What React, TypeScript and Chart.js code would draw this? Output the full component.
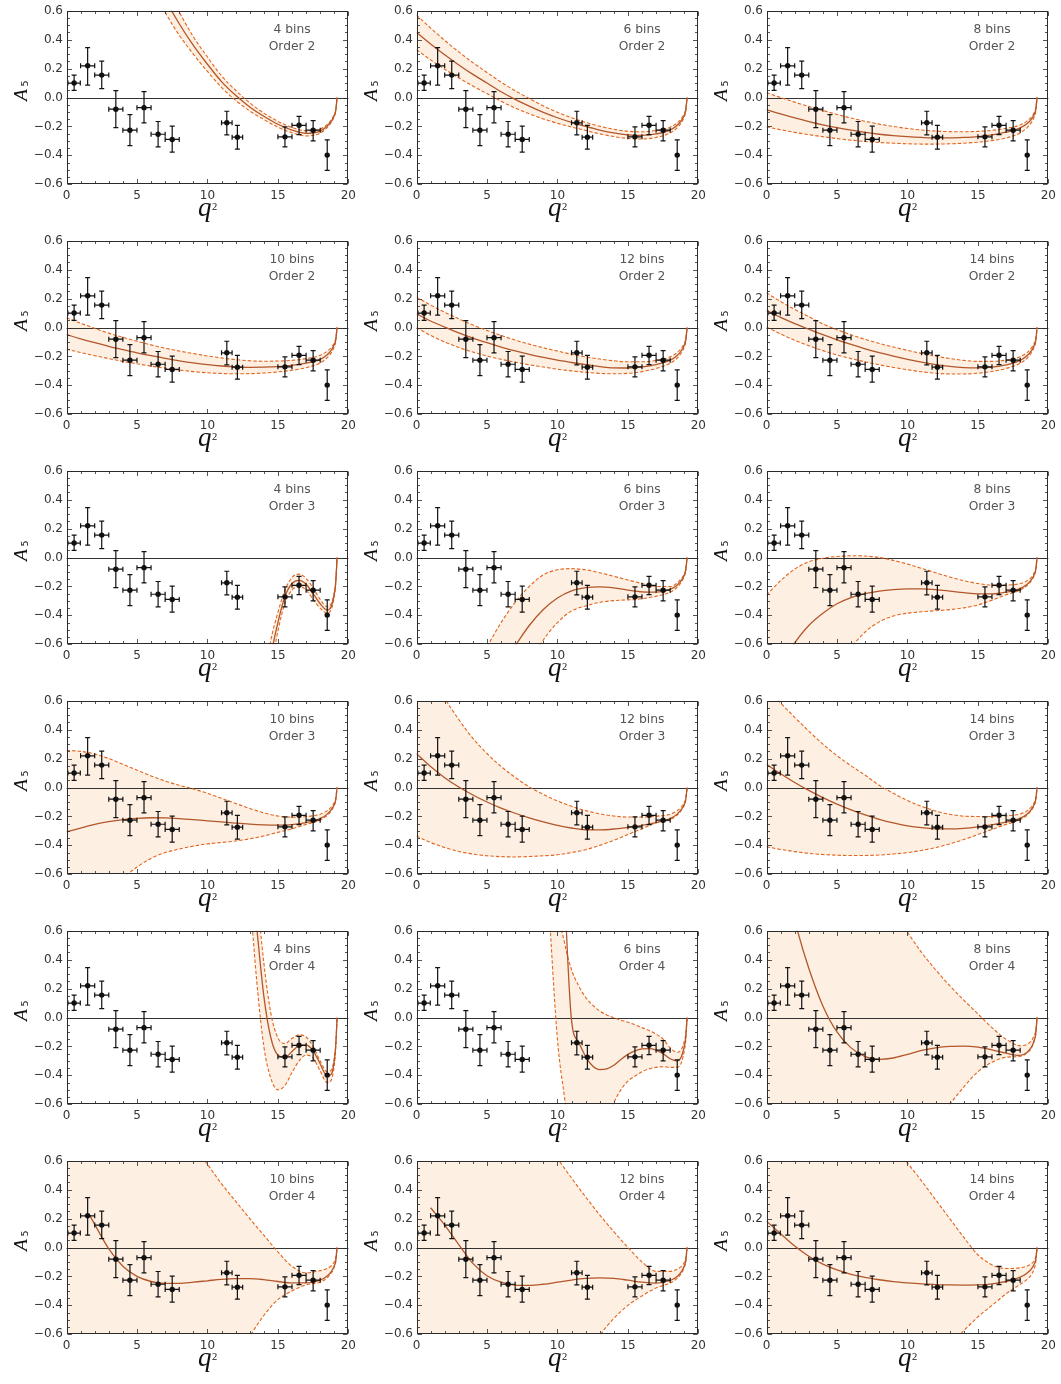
import React, { useEffect, useRef } from "react";
import { Chart, registerables } from "chart.js";

Chart.register(...registerables);

// ---------------- data points (same in every panel) ----------------
const Q = [0.54, 1.5, 2.5, 3.5, 4.5, 5.5, 6.5, 7.5, 11.375, 12.125, 15.5, 16.5, 17.5, 18.5];
const Q_LO = [0.1, 1, 2, 3, 4, 5, 6, 7, 11, 11.75, 15, 16, 17, 18.5];
const Q_HI = [0.98, 2, 3, 4, 5, 6, 7, 8, 11.75, 12.5, 16, 17, 18, 18.5];
const A5 = [0.1, 0.219, 0.155, -0.081, -0.226, -0.07, -0.254, -0.29, -0.175, -0.274, -0.272, -0.192, -0.226, -0.398];
const ERR_UP = [0.055, 0.126, 0.096, 0.128, 0.108, 0.11, 0.088, 0.092, 0.08, 0.082, 0.069, 0.062, 0.066, 0.105];
const ERR_DN = [0.051, 0.133, 0.094, 0.127, 0.106, 0.105, 0.087, 0.087, 0.083, 0.083, 0.069, 0.064, 0.074, 0.106];

// ---------------- sample grids for fitted curves ----------------
const GRID_C = [0, 1, 2, 3, 4, 5, 6, 7, 8, 9, 10, 11, 12, 13, 14, 15, 16, 17, 18, 18.5, 18.8, 19, 19.1, 19.2];
const GRID_F = [0, 1, 2, 3, 4, 5, 6, 7, 8, 9, 9.5, 10, 10.5, 11, 11.5, 12, 12.5, 13, 13.5, 14, 14.5, 15, 15.5, 16, 16.5, 17, 17.5, 18, 18.5, 18.8, 19, 19.1, 19.2];

const BINS = [4, 6, 8, 10, 12, 14];
const ORDERS = [2, 3, 4];
const X_TICKS = [0, 5, 10, 15, 20];
const Y_TICKS = [-0.6, -0.4, -0.2, 0, 0.2, 0.4, 0.6];

// ---------------- Order 2 ----------------
const P1_C = [2.6, 2.2, 1.9, 1.6, 1.35, 1.1, 0.88, 0.68, 0.51, 0.36, 0.23, 0.11, 0.015, -0.065, -0.13, -0.185, -0.225, -0.248, -0.232, -0.197, -0.162, -0.125, -0.093, 0];
const P1_U = [2.8, 2.38, 2.06, 1.75, 1.48, 1.22, 0.98, 0.77, 0.59, 0.42, 0.28, 0.15, 0.05, -0.037, -0.108, -0.165, -0.207, -0.23, -0.218, -0.186, -0.153, -0.118, -0.088, 0];
const P1_L = [2.4, 2.02, 1.74, 1.45, 1.22, 0.98, 0.78, 0.59, 0.43, 0.3, 0.18, 0.07, -0.02, -0.093, -0.152, -0.205, -0.243, -0.266, -0.246, -0.208, -0.171, -0.132, -0.098, 0];

const P2_C = [0.45, 0.37, 0.295, 0.225, 0.16, 0.1, 0.04, -0.013, -0.06, -0.103, -0.14, -0.172, -0.2, -0.225, -0.245, -0.258, -0.262, -0.252, -0.225, -0.192, -0.158, -0.122, -0.09, 0];
const P2_U = [0.57, 0.48, 0.395, 0.315, 0.241, 0.173, 0.106, 0.047, -0.007, -0.058, -0.102, -0.14, -0.172, -0.199, -0.22, -0.233, -0.237, -0.228, -0.205, -0.175, -0.144, -0.111, -0.082, 0];
const P2_L = [0.33, 0.26, 0.195, 0.135, 0.079, 0.027, -0.026, -0.073, -0.113, -0.148, -0.178, -0.204, -0.228, -0.251, -0.27, -0.283, -0.287, -0.276, -0.245, -0.209, -0.172, -0.133, -0.098, 0];

const P3_C = [-0.085, -0.114, -0.141, -0.166, -0.189, -0.209, -0.226, -0.241, -0.254, -0.264, -0.271, -0.276, -0.279, -0.279, -0.276, -0.27, -0.258, -0.24, -0.21, -0.18, -0.149, -0.115, -0.085, 0];
const P3_U = [0.033, 0.0, -0.032, -0.062, -0.09, -0.117, -0.142, -0.164, -0.184, -0.2, -0.214, -0.225, -0.232, -0.236, -0.237, -0.234, -0.227, -0.213, -0.19, -0.162, -0.134, -0.103, -0.076, 0];
const P3_L = [-0.203, -0.223, -0.241, -0.257, -0.271, -0.284, -0.295, -0.304, -0.311, -0.316, -0.32, -0.322, -0.322, -0.32, -0.316, -0.309, -0.298, -0.28, -0.245, -0.208, -0.172, -0.133, -0.098, 0];

const P4_C = [-0.049, -0.078, -0.105, -0.13, -0.153, -0.175, -0.195, -0.213, -0.23, -0.245, -0.257, -0.266, -0.272, -0.275, -0.274, -0.27, -0.262, -0.247, -0.22, -0.188, -0.155, -0.119, -0.088, 0];
const P4_U = [0.068, 0.03, -0.006, -0.039, -0.068, -0.095, -0.12, -0.143, -0.163, -0.18, -0.197, -0.21, -0.222, -0.23, -0.233, -0.232, -0.227, -0.215, -0.192, -0.164, -0.136, -0.105, -0.077, 0];
const P4_L = [-0.15, -0.173, -0.195, -0.215, -0.234, -0.251, -0.267, -0.281, -0.294, -0.305, -0.313, -0.318, -0.32, -0.319, -0.315, -0.307, -0.296, -0.278, -0.245, -0.209, -0.172, -0.133, -0.098, 0];

const P5_C = [0.095, 0.045, 0.003, -0.037, -0.073, -0.105, -0.135, -0.162, -0.186, -0.207, -0.226, -0.242, -0.257, -0.27, -0.279, -0.28, -0.272, -0.256, -0.226, -0.193, -0.159, -0.122, -0.09, 0];
const P5_U = [0.21, 0.155, 0.105, 0.06, 0.017, -0.02, -0.055, -0.087, -0.115, -0.14, -0.163, -0.185, -0.203, -0.218, -0.23, -0.237, -0.237, -0.228, -0.203, -0.173, -0.142, -0.11, -0.081, 0];
const P5_L = [0.0, -0.055, -0.1, -0.138, -0.17, -0.197, -0.22, -0.24, -0.258, -0.273, -0.288, -0.3, -0.31, -0.317, -0.32, -0.317, -0.305, -0.283, -0.248, -0.211, -0.174, -0.134, -0.099, 0];

const P6_C = [0.118, 0.07, 0.027, -0.012, -0.05, -0.085, -0.117, -0.147, -0.174, -0.198, -0.22, -0.239, -0.256, -0.269, -0.277, -0.279, -0.274, -0.258, -0.227, -0.194, -0.16, -0.123, -0.091, 0];
const P6_U = [0.24, 0.18, 0.125, 0.075, 0.025, -0.015, -0.05, -0.082, -0.11, -0.135, -0.158, -0.179, -0.198, -0.214, -0.227, -0.234, -0.234, -0.225, -0.202, -0.172, -0.141, -0.109, -0.081, 0];
const P6_L = [0.003, -0.045, -0.088, -0.126, -0.16, -0.19, -0.215, -0.238, -0.258, -0.276, -0.292, -0.306, -0.316, -0.321, -0.321, -0.316, -0.304, -0.283, -0.248, -0.211, -0.174, -0.134, -0.099, 0];

// ---------------- Order 3 ----------------
const P7_C = [-3, -3, -3, -3, -3, -3, -3, -3, -3, -3, -3, -3, -3, -3, -3, -2.7, -2.1, -1.7, -1.32, -0.98, -0.68, -0.45, -0.27, -0.18, -0.158, -0.185, -0.25, -0.32, -0.363, -0.335, -0.255, -0.175, 0];
const P7_U = [-3, -3, -3, -3, -3, -3, -3, -3, -3, -3, -3, -3, -3, -3, -3, -2.5, -1.9, -1.5, -1.15, -0.85, -0.57, -0.38, -0.225, -0.138, -0.115, -0.145, -0.21, -0.29, -0.34, -0.315, -0.24, -0.165, 0];
const P7_L = [-3, -3, -3, -3, -3, -3, -3, -3, -3, -3, -3, -3, -3, -3, -3, -2.9, -2.3, -1.9, -1.5, -1.1, -0.78, -0.51, -0.315, -0.225, -0.2, -0.225, -0.29, -0.35, -0.385, -0.355, -0.27, -0.185, 0];

const P8_C = [-2.2, -1.9, -1.6, -1.35, -1.12, -0.92, -0.75, -0.61, -0.47, -0.36, -0.28, -0.23, -0.208, -0.203, -0.21, -0.225, -0.238, -0.24, -0.22, -0.19, -0.158, -0.122, -0.09, 0];
const P8_U = [-1.6, -1.35, -1.12, -0.92, -0.76, -0.615, -0.45, -0.31, -0.2, -0.12, -0.085, -0.077, -0.085, -0.105, -0.13, -0.155, -0.18, -0.2, -0.2, -0.175, -0.145, -0.112, -0.082, 0];
const P8_L = [-2.8, -2.5, -2.2, -1.9, -1.6, -1.35, -1.1, -0.9, -0.72, -0.57, -0.45, -0.37, -0.335, -0.31, -0.298, -0.293, -0.285, -0.268, -0.24, -0.205, -0.169, -0.13, -0.096, 0];

const P9_C = [-0.92, -0.74, -0.59, -0.47, -0.385, -0.32, -0.277, -0.25, -0.232, -0.222, -0.217, -0.217, -0.222, -0.232, -0.243, -0.252, -0.252, -0.24, -0.215, -0.185, -0.153, -0.118, -0.087, 0];
const P9_U = [-0.26, -0.16, -0.08, -0.03, -0.005, 0.007, 0.012, 0.01, 0.0, -0.02, -0.045, -0.075, -0.105, -0.135, -0.16, -0.18, -0.19, -0.19, -0.18, -0.16, -0.136, -0.106, -0.078, 0];
const P9_L = [-2.0, -1.7, -1.42, -1.17, -0.95, -0.77, -0.625, -0.515, -0.445, -0.405, -0.385, -0.375, -0.368, -0.36, -0.348, -0.328, -0.295, -0.258, -0.225, -0.193, -0.16, -0.123, -0.091, 0];

const P10_C = [-0.306, -0.28, -0.255, -0.236, -0.222, -0.213, -0.209, -0.21, -0.215, -0.222, -0.23, -0.238, -0.246, -0.253, -0.258, -0.26, -0.256, -0.243, -0.215, -0.184, -0.152, -0.117, -0.086, 0];
const P10_U = [0.256, 0.25, 0.232, 0.2, 0.16, 0.12, 0.08, 0.045, 0.015, -0.01, -0.04, -0.075, -0.11, -0.145, -0.175, -0.197, -0.205, -0.2, -0.185, -0.16, -0.133, -0.103, -0.076, 0];
const P10_L = [-1.2, -1.02, -0.87, -0.74, -0.63, -0.55, -0.49, -0.45, -0.425, -0.405, -0.39, -0.38, -0.37, -0.355, -0.335, -0.31, -0.285, -0.255, -0.225, -0.193, -0.16, -0.123, -0.091, 0];

const P11_C = [0.233, 0.145, 0.068, 0.003, -0.052, -0.1, -0.142, -0.178, -0.21, -0.238, -0.262, -0.28, -0.292, -0.293, -0.287, -0.275, -0.262, -0.243, -0.215, -0.184, -0.152, -0.117, -0.086, 0];
const P11_U = [1.05, 0.82, 0.62, 0.47, 0.34, 0.235, 0.145, 0.07, 0.005, -0.048, -0.093, -0.13, -0.16, -0.182, -0.197, -0.204, -0.204, -0.198, -0.185, -0.16, -0.133, -0.103, -0.076, 0];
const P11_L = [-0.336, -0.38, -0.415, -0.442, -0.46, -0.472, -0.478, -0.48, -0.477, -0.472, -0.465, -0.45, -0.43, -0.4, -0.365, -0.325, -0.285, -0.245, -0.222, -0.19, -0.157, -0.121, -0.089, 0];

const P12_C = [0.16, 0.095, 0.035, -0.02, -0.07, -0.115, -0.155, -0.19, -0.22, -0.245, -0.265, -0.278, -0.285, -0.286, -0.282, -0.272, -0.258, -0.24, -0.213, -0.183, -0.151, -0.116, -0.086, 0];
const P12_U = [0.69, 0.585, 0.485, 0.39, 0.3, 0.22, 0.15, 0.085, 0.015, -0.04, -0.09, -0.13, -0.162, -0.185, -0.198, -0.2, -0.2, -0.195, -0.183, -0.16, -0.133, -0.103, -0.076, 0];
const P12_L = [-0.41, -0.428, -0.443, -0.455, -0.463, -0.468, -0.47, -0.47, -0.467, -0.46, -0.45, -0.435, -0.415, -0.39, -0.36, -0.325, -0.29, -0.255, -0.222, -0.19, -0.157, -0.121, -0.089, 0];

// ---------------- Order 4 ----------------
const P13_C = [4, 4, 4, 4, 4, 4, 4, 4, 4, 4, 4, 4, 4, 4, 4, 2.5, 1.7, 1.1, 0.62, 0.15, -0.14, -0.26, -0.275, -0.235, -0.195, -0.19, -0.23, -0.32, -0.405, -0.39, -0.3, -0.2, 0];
const P13_U = [4, 4, 4, 4, 4, 4, 4, 4, 4, 4, 4, 4, 4, 4, 4, 3.0, 2.1, 1.4, 0.88, 0.38, 0.03, -0.14, -0.18, -0.145, -0.12, -0.135, -0.2, -0.3, -0.375, -0.36, -0.28, -0.19, 0];
const P13_L = [3, 3, 3, 3, 3, 3, 3, 3, 3, 3, 3, 3, 3, 3, 3, 2.2, 1.4, 0.85, 0.25, -0.2, -0.42, -0.5, -0.47, -0.38, -0.3, -0.26, -0.28, -0.37, -0.45, -0.43, -0.33, -0.22, 0];

const P14_C = [6, 6, 6, 6, 6, 6, 6, 6, 6, 6, 4, 2.2, 0.9, -0.02, -0.17, -0.27, -0.335, -0.36, -0.355, -0.33, -0.29, -0.255, -0.23, -0.217, -0.215, -0.225, -0.25, -0.285, -0.3, -0.27, -0.2, -0.14, 0];
const P14_U = [6, 6, 6, 6, 6, 6, 6, 6, 6, 6, 1.8, 0.82, 0.52, 0.33, 0.22, 0.14, 0.085, 0.045, 0.018, -0.002, -0.018, -0.033, -0.05, -0.07, -0.09, -0.115, -0.15, -0.21, -0.24, -0.22, -0.165, -0.115, 0];
const P14_L = [6, 6, 6, 6, 6, 6, 6, 6, 6, 1.5, 0.6, -0.15, -0.55, -0.88, -1.05, -1.1, -1.02, -0.88, -0.72, -0.59, -0.5, -0.44, -0.405, -0.375, -0.355, -0.345, -0.34, -0.345, -0.345, -0.31, -0.23, -0.16, 0];

const P15_C = [1.53, 1.07, 0.67, 0.34, 0.08, -0.1, -0.21, -0.27, -0.29, -0.28, -0.255, -0.228, -0.21, -0.2, -0.198, -0.205, -0.223, -0.247, -0.262, -0.24, -0.205, -0.157, -0.115, 0];
const P15_U = [3.25, 2.8, 2.4, 2.05, 1.75, 1.5, 1.28, 1.08, 0.9, 0.74, 0.59, 0.45, 0.33, 0.22, 0.12, 0.025, -0.07, -0.15, -0.195, -0.185, -0.16, -0.124, -0.092, 0];
const P15_L = [-4.5, -3.9, -3.4, -2.95, -2.55, -2.18, -1.87, -1.6, -1.37, -1.17, -1.0, -0.85, -0.72, -0.6, -0.48, -0.375, -0.31, -0.275, -0.268, -0.245, -0.21, -0.162, -0.118, 0];

const P16_START = [1.6, 0.23];
const P16_C = [null, null, 0.16, -0.01, -0.13, -0.2, -0.235, -0.248, -0.248, -0.24, -0.23, -0.22, -0.215, -0.215, -0.222, -0.235, -0.245, -0.245, -0.225, -0.197, -0.165, -0.127, -0.094, 0];
const P16_U = [3.5, 3.0, 2.6, 2.2, 1.85, 1.55, 1.3, 1.05, 0.85, 0.7, 0.575, 0.44, 0.32, 0.2, 0.085, -0.03, -0.13, -0.175, -0.16, -0.145, -0.125, -0.098, -0.073, 0];
const P16_L = [-5.5, -4.8, -4.2, -3.65, -3.15, -2.7, -2.3, -1.95, -1.65, -1.38, -1.15, -0.95, -0.78, -0.615, -0.47, -0.36, -0.3, -0.258, -0.24, -0.21, -0.175, -0.136, -0.1, 0];

const P17_C = [null, 0.275, 0.155, 0.02, -0.11, -0.195, -0.24, -0.26, -0.262, -0.254, -0.24, -0.225, -0.214, -0.21, -0.214, -0.226, -0.24, -0.246, -0.228, -0.2, -0.167, -0.128, -0.095, 0];
const P17_U = [3.6, 3.1, 2.65, 2.25, 1.9, 1.6, 1.33, 1.1, 0.9, 0.74, 0.615, 0.48, 0.35, 0.225, 0.11, 0.0, -0.1, -0.165, -0.165, -0.15, -0.13, -0.103, -0.077, 0];
const P17_L = [-5.5, -4.8, -4.2, -3.65, -3.15, -2.7, -2.3, -1.95, -1.65, -1.38, -1.15, -0.95, -0.775, -0.61, -0.49, -0.4, -0.335, -0.28, -0.245, -0.213, -0.178, -0.138, -0.102, 0];

const P18_C = [0.182, 0.095, 0.01, -0.06, -0.115, -0.155, -0.185, -0.207, -0.223, -0.236, -0.245, -0.252, -0.256, -0.259, -0.26, -0.259, -0.252, -0.235, -0.205, -0.176, -0.148, -0.114, -0.085, 0];
const P18_U = [3.8, 3.2, 2.7, 2.25, 1.87, 1.55, 1.27, 1.03, 0.84, 0.7, 0.585, 0.46, 0.33, 0.2, 0.07, -0.05, -0.12, -0.145, -0.14, -0.128, -0.112, -0.09, -0.067, 0];
const P18_L = [-5.5, -4.8, -4.2, -3.6, -3.05, -2.55, -2.12, -1.75, -1.45, -1.2, -1.0, -0.87, -0.76, -0.67, -0.575, -0.48, -0.4, -0.32, -0.255, -0.22, -0.187, -0.146, -0.107, 0];

type PanelDef = { grid: number[]; c: (number | null)[]; u: number[]; l: number[]; start?: number[] };

const CURVES: PanelDef[] = [
  { grid: GRID_C, c: P1_C, u: P1_U, l: P1_L },
  { grid: GRID_C, c: P2_C, u: P2_U, l: P2_L },
  { grid: GRID_C, c: P3_C, u: P3_U, l: P3_L },
  { grid: GRID_C, c: P4_C, u: P4_U, l: P4_L },
  { grid: GRID_C, c: P5_C, u: P5_U, l: P5_L },
  { grid: GRID_C, c: P6_C, u: P6_U, l: P6_L },
  { grid: GRID_F, c: P7_C, u: P7_U, l: P7_L },
  { grid: GRID_C, c: P8_C, u: P8_U, l: P8_L },
  { grid: GRID_C, c: P9_C, u: P9_U, l: P9_L },
  { grid: GRID_C, c: P10_C, u: P10_U, l: P10_L },
  { grid: GRID_C, c: P11_C, u: P11_U, l: P11_L },
  { grid: GRID_C, c: P12_C, u: P12_U, l: P12_L },
  { grid: GRID_F, c: P13_C, u: P13_U, l: P13_L },
  { grid: GRID_F, c: P14_C, u: P14_U, l: P14_L },
  { grid: GRID_C, c: P15_C, u: P15_U, l: P15_L },
  { grid: GRID_C, c: P16_C, u: P16_U, l: P16_L, start: P16_START },
  { grid: GRID_C, c: P17_C, u: P17_U, l: P17_L },
  { grid: GRID_C, c: P18_C, u: P18_U, l: P18_L },
];

// ---------------- style ----------------
const CENTRAL = "#b3572b";
const DASH = "#e3651d";
const BAND = "#fdefe2";
const FRAME = "#2b2b2b";
const SANS = '"DejaVu Sans", "Liberation Sans", Arial, sans-serif';
const SERIF = '"Liberation Serif", "Times New Roman", serif';

const CW = 360;
const CH = 230;

const decorPlugin = {
  id: "decor",
  beforeDatasetsDraw(chart: any) {
    const { ctx, chartArea: a, scales } = chart;
    const y0 = Math.round(scales.y.getPixelForValue(0)) + 0.5;
    ctx.save();
    ctx.strokeStyle = "#333";
    ctx.lineWidth = 1;
    ctx.beginPath();
    ctx.moveTo(a.left, y0);
    ctx.lineTo(a.right, y0);
    ctx.stroke();
    ctx.restore();
  },
  afterDatasetsDraw(chart: any) {
    const { ctx } = chart;
    const xs = chart.scales.x;
    const ys = chart.scales.y;
    ctx.save();
    ctx.strokeStyle = "#111";
    ctx.lineWidth = 1.2;
    const cap = 2.5;
    for (let i = 0; i < Q.length; i++) {
      const px = xs.getPixelForValue(Q[i]);
      const py = ys.getPixelForValue(A5[i]);
      const pt = ys.getPixelForValue(A5[i] + ERR_UP[i]);
      const pb = ys.getPixelForValue(A5[i] - ERR_DN[i]);
      ctx.beginPath();
      ctx.moveTo(px, pt);
      ctx.lineTo(px, pb);
      ctx.moveTo(px - cap, pt);
      ctx.lineTo(px + cap, pt);
      ctx.moveTo(px - cap, pb);
      ctx.lineTo(px + cap, pb);
      if (Q_HI[i] > Q_LO[i]) {
        const pl = xs.getPixelForValue(Q_LO[i]);
        const pr = xs.getPixelForValue(Q_HI[i]);
        ctx.moveTo(pl, py);
        ctx.lineTo(pr, py);
        ctx.moveTo(pl, py - cap);
        ctx.lineTo(pl, py + cap);
        ctx.moveTo(pr, py - cap);
        ctx.lineTo(pr, py + cap);
      }
      ctx.stroke();
    }
    ctx.restore();
  },
  afterDraw(chart: any) {
    const { ctx, chartArea: a } = chart;
    const xs = chart.scales.x;
    const ys = chart.scales.y;
    const o = chart.options.plugins.decor;
    ctx.save();
    // frame
    ctx.strokeStyle = FRAME;
    ctx.lineWidth = 1;
    const L = Math.round(a.left) + 0.5;
    const R = Math.round(a.right) - 0.5;
    const T = Math.round(a.top) + 0.5;
    const B = Math.round(a.bottom) - 0.5;
    ctx.strokeRect(L, T, R - L, B - T);
    // ticks
    ctx.lineWidth = 0.8;
    ctx.beginPath();
    for (let v = 0; v <= 20; v += 1) {
      const px = Math.round(xs.getPixelForValue(v)) + 0.5;
      const len = v % 5 === 0 ? 4.5 : 2.5;
      ctx.moveTo(px, B);
      ctx.lineTo(px, B - len);
      ctx.moveTo(px, T);
      ctx.lineTo(px, T + len);
    }
    for (let k = -12; k <= 12; k++) {
      const v = k * 0.05;
      const py = Math.round(ys.getPixelForValue(v)) + 0.5;
      const len = k % 4 === 0 ? 4.5 : 2.5;
      ctx.moveTo(L, py);
      ctx.lineTo(L + len, py);
      ctx.moveTo(R, py);
      ctx.lineTo(R - len, py);
    }
    ctx.stroke();

    // annotation text
    ctx.fillStyle = "#555";
    ctx.font = `12.3px ${SANS}`;
    ctx.textAlign = "center";
    ctx.textBaseline = "alphabetic";
    ctx.fillText(`${o.bins} bins`, 292, 33);
    ctx.fillText(`Order ${o.order}`, 292, 50);

    // x title q^2
    ctx.fillStyle = "#111";
    ctx.textAlign = "left";
    ctx.font = `italic 27px ${SERIF}`;
    const wq = ctx.measureText("q").width;
    ctx.font = `10.5px ${SERIF}`;
    const w2 = ctx.measureText("2").width;
    const cx = (a.left + a.right) / 2;
    const sx = cx - (wq + w2) / 2;
    ctx.font = `italic 27px ${SERIF}`;
    ctx.fillText("q", sx, 216);
    ctx.font = `10.5px ${SERIF}`;
    ctx.fillText("2", sx + wq + 0.5, 210);

    // y title A_5
    ctx.translate(27, 101);
    ctx.rotate(-Math.PI / 2);
    ctx.font = `italic 19.5px ${SERIF}`;
    ctx.fillText("A", 0, 0);
    const wA = ctx.measureText("A").width;
    ctx.font = `9.5px ${SANS}`;
    ctx.fillText("5", wA + 2.5, 1);
    ctx.restore();
  },
};

function buildConfig(idx: number): any {
  const def = CURVES[idx];
  const bins = BINS[(Math.floor(idx / 3) % 2) * 3 + (idx % 3)];
  const order = ORDERS[Math.floor(idx / 6)];
  const toPts = (arr: (number | null)[]) =>
    def.grid.map((x, i) => ({ x, y: arr[i] })).filter((p) => p.y !== null && p.y !== undefined);
  const cen = toPts(def.c);
  if (def.start) cen.unshift({ x: def.start[0], y: def.start[1] });
  const lineCommon = {
    pointRadius: 0,
    pointHoverRadius: 0,
    cubicInterpolationMode: "monotone",
    capBezierPoints: false,
    spanGaps: false,
  };
  return {
    type: "line",
    data: {
      datasets: [
        {
          label: "data",
          data: Q.map((x, i) => ({ x, y: A5[i] })),
          showLine: false,
          pointRadius: 2.7,
          pointHoverRadius: 2.7,
          pointBackgroundColor: "#111",
          pointBorderWidth: 0,
          fill: false,
          order: 0,
        },
        {
          label: "central",
          data: cen,
          borderColor: CENTRAL,
          borderWidth: 1.3,
          fill: false,
          order: 1,
          ...lineCommon,
        },
        {
          label: "lower",
          data: toPts(def.l),
          borderColor: DASH,
          borderWidth: 1.1,
          borderDash: [3.5, 2],
          fill: false,
          order: 2,
          ...lineCommon,
        },
        {
          label: "upper",
          data: toPts(def.u),
          borderColor: DASH,
          borderWidth: 1.1,
          borderDash: [3.5, 2],
          fill: 2,
          backgroundColor: BAND,
          order: 2,
          ...lineCommon,
        },
      ],
    },
    options: {
      responsive: false,
      animation: false,
      devicePixelRatio: 1,
      events: [],
      layout: { padding: { left: 0, right: CW - 348.7, top: 10, bottom: 0 } },
      plugins: {
        legend: { display: false },
        tooltip: { enabled: false },
        filler: { drawTime: "beforeDatasetsDraw", propagate: false },
        decor: { bins, order },
      },
      scales: {
        x: {
          type: "linear",
          min: 0,
          max: 20,
          afterFit: (s: any) => {
            s.height = CH - 184.3;
          },
          afterBuildTicks: (s: any) => {
            s.ticks = X_TICKS.map((v) => ({ value: v }));
          },
          grid: { display: false, drawTicks: false },
          border: { display: false },
          ticks: {
            padding: 4,
            color: "#333",
            font: { family: SANS, size: 12 },
            maxRotation: 0,
            autoSkip: false,
            callback: (v: number) => String(Math.round(v)),
          },
        },
        y: {
          type: "linear",
          min: -0.6,
          max: 0.6,
          afterFit: (s: any) => {
            s.width = 66.5;
          },
          afterBuildTicks: (s: any) => {
            s.ticks = Y_TICKS.map((v) => ({ value: v }));
          },
          grid: { display: false, drawTicks: false },
          border: { display: false },
          ticks: {
            padding: 3.5,
            color: "#333",
            font: { family: SANS, size: 12 },
            autoSkip: false,
            callback: (v: number) => {
              const r = Math.round(v * 10) / 10;
              return (r < 0 ? "\u2212" : "") + Math.abs(r).toFixed(1);
            },
          },
        },
      },
    },
    plugins: [decorPlugin],
  };
}

function Panel({ idx }: { idx: number }) {
  const ref = useRef<HTMLCanvasElement>(null);
  useEffect(() => {
    if (!ref.current) return;
    const chart = new Chart(ref.current, buildConfig(idx));
    return () => chart.destroy();
  }, [idx]);
  const row = Math.floor(idx / 3);
  const col = idx % 3;
  return (
    <canvas
      ref={ref}
      width={CW}
      height={CH}
      style={{ position: "absolute", left: col * 350, top: row * 230, width: CW, height: CH }}
    />
  );
}

export default function App() {
  return (
    <div
      style={{
        position: "absolute",
        left: 0,
        top: 0,
        width: 1061,
        height: 1384,
        background: "#fff",
        overflow: "hidden",
      }}
    >
      {CURVES.map((_, i) => (
        <Panel key={i} idx={i} />
      ))}
    </div>
  );
}
